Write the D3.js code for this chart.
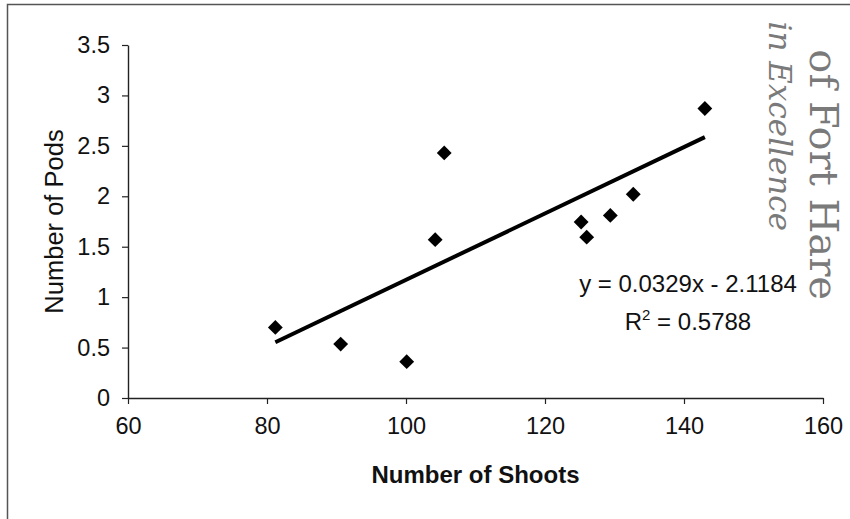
<!DOCTYPE html>
<html>
<head>
<meta charset="utf-8">
<script src="https://cdn.jsdelivr.net/npm/d3@7"></script>
<style>
  body { margin: 0; background: #fff; }
  svg { display: block; font-family: "Liberation Sans", Arial, sans-serif; }
</style>
</head>
<body>
<svg id="chart" width="850" height="519"></svg>
<script>
// data
var shoots = [81.2, 90.6, 100.1, 104.2, 105.5, 125.2, 126.0, 129.4, 132.7, 143.0];
var pods = [0.70, 0.535, 0.36, 1.57, 2.43, 1.745, 1.595, 1.81, 2.02, 2.87];
var xTicks = [60, 80, 100, 120, 140, 160];
var yTicks = [0, 0.5, 1, 1.5, 2, 2.5, 3, 3.5];
var slope = 0.0329, intercept = -2.1184, r2 = 0.5788;

var svg = d3.select("#chart");

// outer frame (only top and left edges show in the scan)
svg.append("path")
  .attr("d", "M7.5,519 V4.5 H850")
  .attr("fill", "none")
  .attr("stroke", "#555")
  .attr("stroke-width", 1.5);

var x = d3.scaleLinear().domain([60, 160]).range([128, 823]);
var y = d3.scaleLinear().domain([0, 3.5]).range([398, 45]);

// ! axes
var xAxis = svg.append("g")
  .attr("transform", "translate(0," + y(0) + ")")
  .call(d3.axisBottom(x).tickValues(xTicks).tickSize(6).tickPadding(9).tickSizeOuter(0));
var yAxis = svg.append("g")
  .attr("transform", "translate(" + x(60) + ",0)")
  .call(d3.axisLeft(y).tickValues(yTicks).tickFormat(d3.format("")).tickSize(6).tickPadding(12).tickSizeOuter(0));

[xAxis, yAxis].forEach(function (a) {
  a.select(".domain").attr("stroke", "#222").attr("stroke-width", 1.4);
  a.selectAll(".tick line").attr("stroke", "#222").attr("stroke-width", 1.2);
  a.selectAll(".tick text")
    .attr("fill", "#111")
    .style("font-size", "23.5px")
    .style("font-family", "Liberation Sans, Arial, sans-serif");
});
xAxis.selectAll(".tick text").attr("dy", "0.9em");

// ! axis titles
svg.append("text")
  .attr("x", x(110))
  .attr("y", 483)
  .attr("text-anchor", "middle")
  .style("font-size", "24px")
  .style("font-weight", "bold")
  .attr("fill", "#111")
  .text("Number of Shoots");

svg.append("text")
  .attr("transform", "translate(63," + y(1.75) + ") rotate(-90)")
  .attr("text-anchor", "middle")
  .style("font-size", "25.5px")
  .attr("fill", "#111")
  .text("Number of Pods");

// ! trend line over the data range
var xmin = d3.min(shoots), xmax = d3.max(shoots);
svg.append("line")
  .attr("x1", x(xmin))
  .attr("y1", y(slope * xmin + intercept))
  .attr("x2", x(xmax))
  .attr("y2", y(slope * xmax + intercept))
  .attr("stroke", "#000")
  .attr("stroke-width", 4);

// ! points
var diamond = d3.symbol().type(d3.symbolSquare).size(110);
svg.selectAll(".pt")
  .data(d3.zip(shoots, pods))
  .enter()
  .append("path")
  .attr("class", "pt")
  .attr("d", diamond)
  .attr("transform", (d) => "translate(" + x(d[0]) + "," + y(d[1]) + ") rotate(45)")
  .attr("fill", "#000");

// ! equation
var eq = svg.append("g").attr("fill", "#111").style("font-size", "24px");
eq.append("text")
  .attr("x", 688)
  .attr("y", 292)
  .attr("text-anchor", "middle")
  .text("y = " + slope + "x - " + Math.abs(intercept));
var r2t = eq.append("text")
  .attr("x", 688)
  .attr("y", 330)
  .attr("text-anchor", "middle");
r2t.append("tspan").text("R");
r2t.append("tspan").attr("dy", -10).style("font-size", "15px").text("2");
r2t.append("tspan").attr("dy", 10).text(" = " + r2);

// ! scanned watermark down the right edge (only the visible part)
svg.append("text")
  .attr("transform", "translate(810,300) rotate(90)")
  .attr("text-anchor", "end")
  .style("font-family", "DejaVu Serif, Liberation Serif, serif")
  .style("font-size", "40px")
  .attr("fill", "#7a7a7a")
  .text("of Fort Hare");

svg.append("text")
  .attr("transform", "translate(769,231) rotate(90)")
  .attr("text-anchor", "end")
  .style("font-family", "DejaVu Serif, Liberation Serif, serif")
  .style("font-style", "italic")
  .style("font-size", "31px")
  .attr("fill", "#7a7a7a")
  .text("in Excellence");
</script>
</body>
</html>
